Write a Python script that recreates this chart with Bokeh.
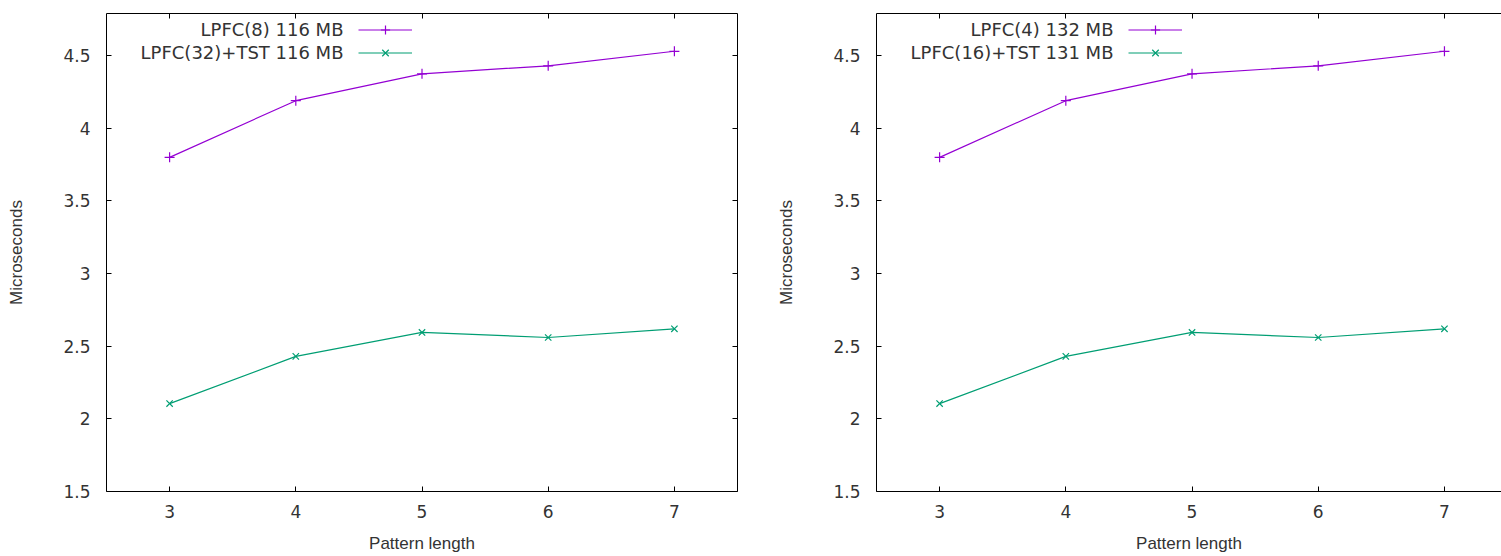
from bokeh.plotting import figure
from bokeh.layouts import row
from bokeh.models import (Range1d, LinearAxis, Legend, LegendItem, Label,
                          FixedTicker, CustomJSTickFormatter, CustomLabelingPolicy)
from bokeh.core.properties import value
from bokeh.embed import file_html
from bokeh.resources import INLINE

# ---- data ----
pattern_length = [3, 4, 5, 6, 7]
lpfc_plain = [3.80, 4.19, 4.375, 4.43, 4.53]
lpfc_tst = [2.105, 2.43, 2.595, 2.56, 2.62]
left_labels = ["LPFC(8) 116 MB", "LPFC(32)+TST 116 MB"]
right_labels = ["LPFC(4) 132 MB", "LPFC(16)+TST 131 MB"]
x_ticks = [3, 4, 5, 6, 7]
y_ticks = [1.5, 2, 2.5, 3, 3.5, 4, 4.5]
x_title = "Pattern length"
y_title = "Microseconds"

PURPLE = "#9400D3"
GREEN = "#009E73"
TITLE_FONT = "Liberation Sans"
TICK_FONT = "DejaVu Sans"
TXT = "#333333"


def style_axis(ax, ticks, show_labels=True):
    ax.ticker = FixedTicker(ticks=ticks)
    ax.formatter = CustomJSTickFormatter(code="return String(tick)")
    ax.major_tick_in = 5
    ax.major_tick_out = 0
    ax.minor_tick_line_color = None
    ax.axis_line_color = "black"
    ax.major_tick_line_color = "black"
    ax.axis_line_width = 1
    ax.major_label_text_font = TICK_FONT
    ax.major_label_text_color = TXT
    ax.axis_label_text_font = TITLE_FONT
    ax.axis_label_text_font_style = "normal"
    ax.axis_label_text_color = TXT
    ax.axis_label_text_font_size = "17px"
    if show_labels:
        ax.major_label_text_font_size = "17px"
    else:
        ax.major_label_text_font_size = "0px"
        ax.major_label_standoff = 0
        ax.major_label_policy = CustomLabelingPolicy(
            code="for (const i of indices) { indices.unset(i) } return indices")


def make_panel(labels, width, border_right, x_end, mirror_right):
    p = figure(width=width, height=556, output_backend="svg", toolbar_location=None,
               x_range=Range1d(2.5, x_end), y_range=Range1d(1.5, 4.79),
               min_border_left=106, min_border_right=border_right,
               min_border_top=13, min_border_bottom=65,
               x_axis_label=x_title, y_axis_label=y_title)
    p.outline_line_color = None
    p.grid.visible = False
    p.background_fill_color = "white"
    p.border_fill_color = "white"

    xa = p.xaxis[0]
    style_axis(xa, x_ticks)
    xa.major_label_standoff = 13
    xa.axis_label_standoff = 13

    ya = p.yaxis[0]
    style_axis(ya, y_ticks)
    ya.major_label_standoff = 16
    ya.axis_label_standoff = 34

    top = LinearAxis()
    style_axis(top, x_ticks, show_labels=False)
    p.add_layout(top, "above")
    if mirror_right:
        rt = LinearAxis()
        style_axis(rt, y_ticks, show_labels=False)
        p.add_layout(rt, "right")

    l1 = p.line(pattern_length, lpfc_plain, line_color=PURPLE, line_width=1.2)
    s1 = p.scatter(pattern_length, lpfc_plain, marker="cross", size=10,
                   line_color=PURPLE, line_width=1.2)
    l2 = p.line(pattern_length, lpfc_tst, line_color=GREEN, line_width=1.2)
    s2 = p.scatter(pattern_length, lpfc_tst, marker="x", size=9,
                   line_color=GREEN, line_width=1.2)

    leg = Legend(items=[LegendItem(label=value(""), renderers=[l1, s1]),
                        LegendItem(label=value(""), renderers=[l2, s2])],
                 location=(252, 427), glyph_width=54, glyph_height=23,
                 spacing=0, padding=0, margin=0, label_standoff=0,
                 label_width=0, label_height=20, label_text_font_size="1px",
                 border_line_color=None, background_fill_alpha=0)
    p.add_layout(leg)

    for lab, yy in zip(labels, [462, 439]):
        p.add_layout(Label(x=237, y=yy, x_units="screen", y_units="screen",
                           text=lab, text_align="right", text_baseline="middle",
                           text_font=TICK_FONT, text_font_size="18px",
                           text_color=TXT))
    return p


p1 = make_panel(left_labels, 770, 33, 7.5, True)
p2 = make_panel(right_labels, 731, 0, 7.452, False)

layout = row(p1, p2)
open("out.html", "w").write(file_html(layout, INLINE))
